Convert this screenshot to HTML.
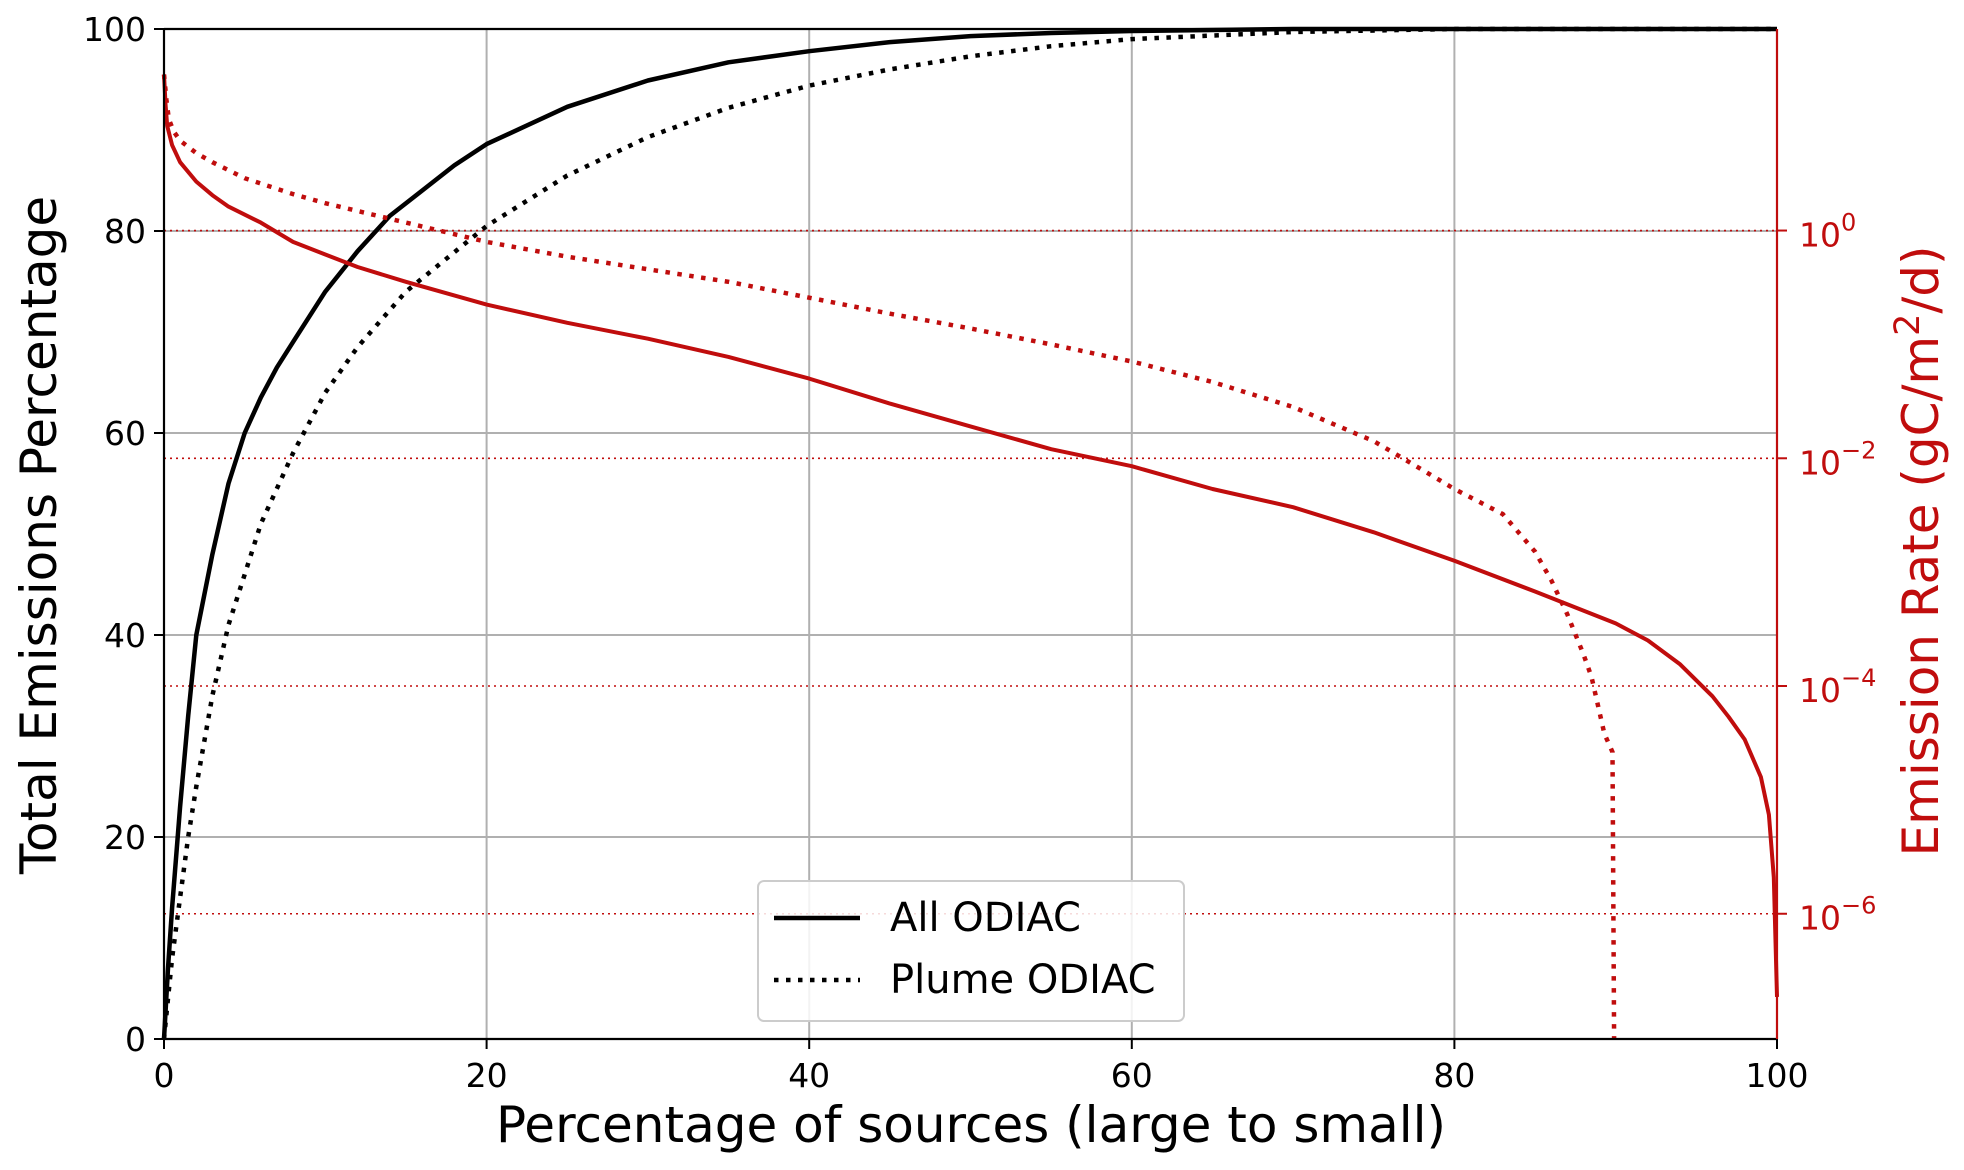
<!DOCTYPE html>
<html><head><meta charset="utf-8"><style>
html,body{margin:0;padding:0;background:#fff}
svg{display:block;font-family:"DejaVu Sans","Liberation Sans",sans-serif}
</style></head><body>
<svg id="chart" width="1964" height="1170" viewBox="0 0 1964 1170" xmlns="http://www.w3.org/2000/svg">
<g id="grid"></g>
<g id="series"></g>
<g id="axes"></g>
<text x="971" y="1142" font-size="50" text-anchor="middle" fill="#000">Percentage of sources (large to small)</text>
<text transform="translate(56,535) rotate(-90)" font-size="50" text-anchor="middle" fill="#000">Total Emissions Percentage</text>
<text transform="translate(1938,551) rotate(-90)" font-size="50" text-anchor="middle" fill="#c00d0d">Emission Rate (gC/m<tspan dy="-19" font-size="35">2</tspan><tspan dy="19">/d)</tspan></text>
<g>
<rect x="758" y="881" width="426" height="140" rx="6" fill="#fff" fill-opacity="0.85" stroke="#ccc" stroke-width="2"/>
<line x1="774" y1="918" x2="860" y2="918" stroke="#000" stroke-width="4.5"/>
<line x1="774" y1="980" x2="860" y2="980" stroke="#000" stroke-width="4.5" stroke-dasharray="4.5,7.5"/>
<text x="890" y="931" font-size="40">All ODIAC</text>
<text x="890" y="993" font-size="40">Plume ODIAC</text>
</g>
</svg>
<script>
const xPct=[0,0.25,0.5,1,1.5,2,3,4,5,6,7,8,10,12,14,16,18,20,25,30,35,40,45,50,55,60,70,100];
const allCum=[0,7,13,23,32,40,48,55,60,63.5,66.5,69,74,78,81.5,84,86.5,88.6,92.3,94.9,96.7,97.8,98.7,99.3,99.6,99.8,100,100];
const plumeX=[0,0.25,0.5,1,1.5,2,3,4,5,6,8,10,12,15,20,25,30,35,40,45,50,55,60,70,80,100];
const plumeCum=[0,4,8,14,20,25,34,41,46,51,58,64,68.5,74,80.5,85.5,89.3,92.2,94.4,96,97.3,98.3,99,99.7,100,100];
const rateAllX=[0,0.1,0.2,0.5,1,2,3,4,6,8,10,12,15,20,25,30,35,40,45,50,55,60,65,70,75,80,85,90,92,94,96,97,98,99,99.5,99.8,100];
const rateAllLog=[1.37,1.1,0.92,0.75,0.6,0.43,0.31,0.21,0.07,-0.1,-0.21,-0.32,-0.45,-0.65,-0.81,-0.95,-1.11,-1.3,-1.52,-1.72,-1.92,-2.07,-2.27,-2.43,-2.65,-2.9,-3.17,-3.45,-3.6,-3.81,-4.09,-4.27,-4.47,-4.8,-5.13,-5.68,-6.73];
const ratePlumeX=[0,0.15,0.3,0.6,1,2,3,5,8,10,15,20,25,30,35,40,45,50,55,60,65,70,75,78,80,83,85,86,87,88,88.5,89.3,89.8,89.9];
const ratePlumeLog=[1.37,1.15,0.98,0.87,0.79,0.68,0.6,0.46,0.32,0.24,0.07,-0.1,-0.23,-0.34,-0.45,-0.59,-0.73,-0.86,-1.0,-1.15,-1.33,-1.55,-1.85,-2.1,-2.27,-2.49,-2.82,-3.07,-3.37,-3.72,-3.92,-4.42,-4.58,-7.1];
const xTicks=[0,20,40,60,80,100];
const yTicks=[0,20,40,60,80,100];
const y2Exps=[0,-2,-4,-6];

const L=164,R=1777,T=29,B=1039;
const LMIN=-7.1,LMAX=1.77;
const sx=v=>L+(R-L)*v/100;
const sy=v=>B-(B-T)*v/100;
const sy2=l=>B-(B-T)*(l-LMIN)/(LMAX-LMIN);
const NS='http://www.w3.org/2000/svg';
function mk(tag,parent,attrs){const e=document.createElementNS(NS,tag);for(const k in attrs)e.setAttribute(k,attrs[k]);parent.appendChild(e);return e;}
const grid=document.getElementById('grid'),series=document.getElementById('series'),axes=document.getElementById('axes');

xTicks.forEach(t=>{
  if(t>0&&t<100){const g=mk('line',grid,{x1:sx(t),x2:sx(t),y1:T,y2:B,stroke:'#b0b0b0','stroke-width':2});
  
  }
  const tk=mk('line',axes,{x1:sx(t),x2:sx(t),y1:B,y2:B+10,stroke:'#000','stroke-width':2});
  
  
  const tx=mk('text',axes,{x:sx(t),y:B+48,'font-size':33,'text-anchor':'middle',fill:'#000'});
  
  
  tx.textContent=t;
});
yTicks.forEach(t=>{
  if(t>0&&t<100){const g=mk('line',grid,{x1:L,x2:R,y1:sy(t),y2:sy(t),stroke:'#b0b0b0','stroke-width':2});
  
  }
  const tk=mk('line',axes,{x1:L-10,x2:L,y1:sy(t),y2:sy(t),stroke:'#000','stroke-width':2});
  
  
  const tx=mk('text',axes,{x:L-18,y:sy(t)+12,'font-size':33,'text-anchor':'end',fill:'#000'});
  
  
  tx.textContent=t;
});
y2Exps.forEach(e=>{
  const g=mk('line',grid,{x1:L,x2:R,y1:sy2(e),y2:sy2(e),stroke:'#c00d0d','stroke-width':1.6,'stroke-dasharray':'2,4'});
  
  
  const tk=mk('line',axes,{x1:R,x2:R+10,y1:sy2(e),y2:sy2(e),stroke:'#c00d0d','stroke-width':2});
  
  
  const tx=mk('text',axes,{x:R+22,y:sy2(e)+16,'font-size':33,fill:'#c00d0d'});
  
  
  tx.innerHTML='10<tspan dy="-16" font-size="24">'+(e===0?'0':'\u2212'+Math.abs(e))+'</tspan>';
});
function path(xs,ys,fx,fy){return xs.map((x,i)=>(i?'L':'M')+fx(x).toFixed(1)+','+fy(ys[i]).toFixed(1)).join('');}
let p;
p=mk('path',series,{d:path(xPct,allCum,sx,sy),fill:'none',stroke:'#000','stroke-width':4.5,'stroke-linejoin':'round'});


p=mk('path',series,{d:path(plumeX,plumeCum,sx,sy),fill:'none',stroke:'#000','stroke-width':4.5,'stroke-dasharray':'4.5,7.5'});


p=mk('path',series,{d:path(rateAllX,rateAllLog,sx,sy2),fill:'none',stroke:'#c00d0d','stroke-width':4,'stroke-linejoin':'round'});


p=mk('path',series,{d:path(ratePlumeX,ratePlumeLog,sx,sy2),fill:'none',stroke:'#c00d0d','stroke-width':4.5,'stroke-dasharray':'4.5,7.5'});



[[L,T,R,T,'#000'],[L,B,R,B,'#000'],[L,T,L,B,'#000'],[R,T,R,B,'#c00d0d']].forEach(s=>{
  const e=mk('line',axes,{x1:s[0],y1:s[1],x2:s[2],y2:s[3],stroke:s[4],'stroke-width':2.2});
  
  
});
</script>
</body></html>
